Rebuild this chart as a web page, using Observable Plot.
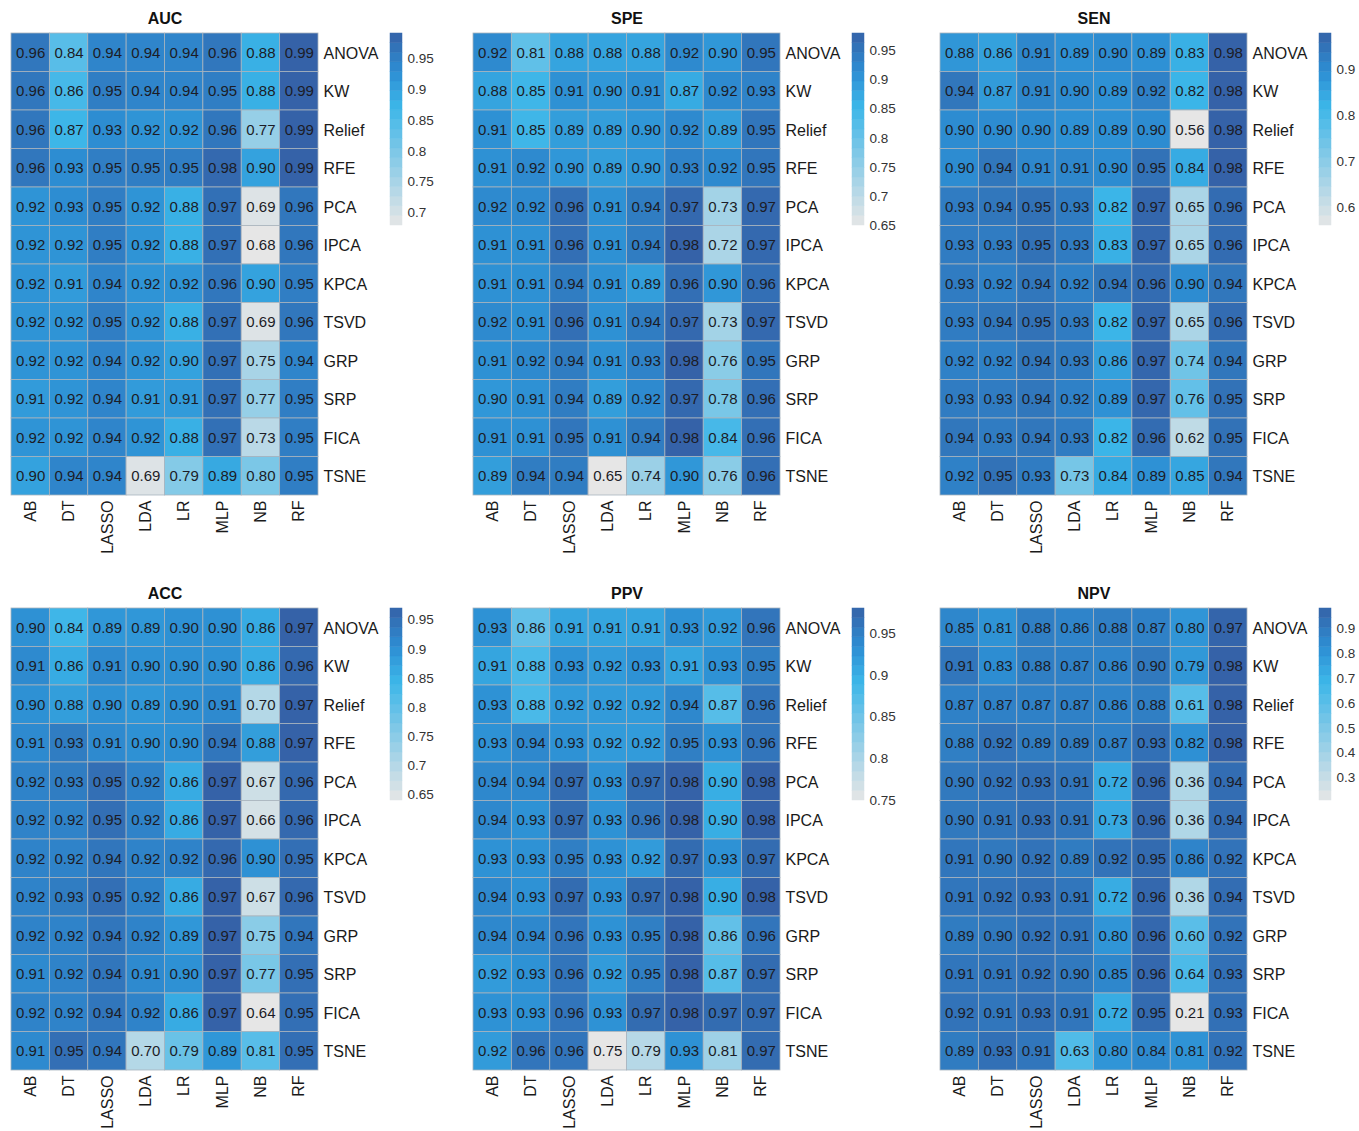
<!DOCTYPE html>
<html><head><meta charset="utf-8">
<script src="https://cdn.jsdelivr.net/npm/d3@7"></script>
<script src="https://cdn.jsdelivr.net/npm/@observablehq/plot@0.6"></script>
<style>
body{margin:0;background:#fff;font-family:"Liberation Sans",Arial,sans-serif;}
#root{position:relative;width:1359px;height:1131px;overflow:hidden;}
.abs{position:absolute;}
</style></head><body><div id="root"></div>
<script>
const models = ["AB","DT","LASSO","LDA","LR","MLP","NB","RF"];
const methods = ["ANOVA","KW","Relief","RFE","PCA","IPCA","KPCA","TSVD","GRP","SRP","FICA","TSNE"];

const AUC = [
 [0.96,0.84,0.94,0.94,0.94,0.96,0.88,0.99],
 [0.96,0.86,0.95,0.94,0.94,0.95,0.88,0.99],
 [0.96,0.87,0.93,0.92,0.92,0.96,0.77,0.99],
 [0.96,0.93,0.95,0.95,0.95,0.98,0.90,0.99],
 [0.92,0.93,0.95,0.92,0.88,0.97,0.69,0.96],
 [0.92,0.92,0.95,0.92,0.88,0.97,0.68,0.96],
 [0.92,0.91,0.94,0.92,0.92,0.96,0.90,0.95],
 [0.92,0.92,0.95,0.92,0.88,0.97,0.69,0.96],
 [0.92,0.92,0.94,0.92,0.90,0.97,0.75,0.94],
 [0.91,0.92,0.94,0.91,0.91,0.97,0.77,0.95],
 [0.92,0.92,0.94,0.92,0.88,0.97,0.73,0.95],
 [0.90,0.94,0.94,0.69,0.79,0.89,0.80,0.95]];
const SPE = [
 [0.92,0.81,0.88,0.88,0.88,0.92,0.90,0.95],
 [0.88,0.85,0.91,0.90,0.91,0.87,0.92,0.93],
 [0.91,0.85,0.89,0.89,0.90,0.92,0.89,0.95],
 [0.91,0.92,0.90,0.89,0.90,0.93,0.92,0.95],
 [0.92,0.92,0.96,0.91,0.94,0.97,0.73,0.97],
 [0.91,0.91,0.96,0.91,0.94,0.98,0.72,0.97],
 [0.91,0.91,0.94,0.91,0.89,0.96,0.90,0.96],
 [0.92,0.91,0.96,0.91,0.94,0.97,0.73,0.97],
 [0.91,0.92,0.94,0.91,0.93,0.98,0.76,0.95],
 [0.90,0.91,0.94,0.89,0.92,0.97,0.78,0.96],
 [0.91,0.91,0.95,0.91,0.94,0.98,0.84,0.96],
 [0.89,0.94,0.94,0.65,0.74,0.90,0.76,0.96]];
const SEN = [
 [0.88,0.86,0.91,0.89,0.90,0.89,0.83,0.98],
 [0.94,0.87,0.91,0.90,0.89,0.92,0.82,0.98],
 [0.90,0.90,0.90,0.89,0.89,0.90,0.56,0.98],
 [0.90,0.94,0.91,0.91,0.90,0.95,0.84,0.98],
 [0.93,0.94,0.95,0.93,0.82,0.97,0.65,0.96],
 [0.93,0.93,0.95,0.93,0.83,0.97,0.65,0.96],
 [0.93,0.92,0.94,0.92,0.94,0.96,0.90,0.94],
 [0.93,0.94,0.95,0.93,0.82,0.97,0.65,0.96],
 [0.92,0.92,0.94,0.93,0.86,0.97,0.74,0.94],
 [0.93,0.93,0.94,0.92,0.89,0.97,0.76,0.95],
 [0.94,0.93,0.94,0.93,0.82,0.96,0.62,0.95],
 [0.92,0.95,0.93,0.73,0.84,0.89,0.85,0.94]];
const ACC = [
 [0.90,0.84,0.89,0.89,0.90,0.90,0.86,0.97],
 [0.91,0.86,0.91,0.90,0.90,0.90,0.86,0.96],
 [0.90,0.88,0.90,0.89,0.90,0.91,0.70,0.97],
 [0.91,0.93,0.91,0.90,0.90,0.94,0.88,0.97],
 [0.92,0.93,0.95,0.92,0.86,0.97,0.67,0.96],
 [0.92,0.92,0.95,0.92,0.86,0.97,0.66,0.96],
 [0.92,0.92,0.94,0.92,0.92,0.96,0.90,0.95],
 [0.92,0.93,0.95,0.92,0.86,0.97,0.67,0.96],
 [0.92,0.92,0.94,0.92,0.89,0.97,0.75,0.94],
 [0.91,0.92,0.94,0.91,0.90,0.97,0.77,0.95],
 [0.92,0.92,0.94,0.92,0.86,0.97,0.64,0.95],
 [0.91,0.95,0.94,0.70,0.79,0.89,0.81,0.95]];
const PPV = [
 [0.93,0.86,0.91,0.91,0.91,0.93,0.92,0.96],
 [0.91,0.88,0.93,0.92,0.93,0.91,0.93,0.95],
 [0.93,0.88,0.92,0.92,0.92,0.94,0.87,0.96],
 [0.93,0.94,0.93,0.92,0.92,0.95,0.93,0.96],
 [0.94,0.94,0.97,0.93,0.97,0.98,0.90,0.98],
 [0.94,0.93,0.97,0.93,0.96,0.98,0.90,0.98],
 [0.93,0.93,0.95,0.93,0.92,0.97,0.93,0.97],
 [0.94,0.93,0.97,0.93,0.97,0.98,0.90,0.98],
 [0.94,0.94,0.96,0.93,0.95,0.98,0.86,0.96],
 [0.92,0.93,0.96,0.92,0.95,0.98,0.87,0.97],
 [0.93,0.93,0.96,0.93,0.97,0.98,0.97,0.97],
 [0.92,0.96,0.96,0.75,0.79,0.93,0.81,0.97]];
const NPV = [
 [0.85,0.81,0.88,0.86,0.88,0.87,0.80,0.97],
 [0.91,0.83,0.88,0.87,0.86,0.90,0.79,0.98],
 [0.87,0.87,0.87,0.87,0.86,0.88,0.61,0.98],
 [0.88,0.92,0.89,0.89,0.87,0.93,0.82,0.98],
 [0.90,0.92,0.93,0.91,0.72,0.96,0.36,0.94],
 [0.90,0.91,0.93,0.91,0.73,0.96,0.36,0.94],
 [0.91,0.90,0.92,0.89,0.92,0.95,0.86,0.92],
 [0.91,0.92,0.93,0.91,0.72,0.96,0.36,0.94],
 [0.89,0.90,0.92,0.91,0.80,0.96,0.60,0.92],
 [0.91,0.91,0.92,0.90,0.85,0.96,0.64,0.93],
 [0.92,0.91,0.93,0.91,0.72,0.95,0.21,0.93],
 [0.89,0.93,0.91,0.63,0.80,0.84,0.81,0.92]];

const aucTicks = [0.7,0.75,0.8,0.85,0.9,0.95];
const speTicks = [0.65,0.7,0.75,0.8,0.85,0.9,0.95];
const senTicks = [0.6,0.7,0.8,0.9];
const accTicks = [0.65,0.7,0.75,0.8,0.85,0.9,0.95];
const ppvTicks = [0.75,0.8,0.85,0.9,0.95];
const npvTicks = [0.3,0.4,0.5,0.6,0.7,0.8,0.9];

const panels = [
  {name:"AUC", values:AUC, ticks:aucTicks, col:0, row:0},
  {name:"SPE", values:SPE, ticks:speTicks, col:1, row:0},
  {name:"SEN", values:SEN, ticks:senTicks, col:2, row:0},
  {name:"ACC", values:ACC, ticks:accTicks, col:0, row:1},
  {name:"PPV", values:PPV, ticks:ppvTicks, col:1, row:1},
  {name:"NPV", values:NPV, ticks:npvTicks, col:2, row:1}
];
const colLeft = [11, 473, 940];
const rowTop = [33, 608];
const font = "Liberation Sans, Arial, sans-serif";
const gradStops = [0, 0.62, 0.8, 1];
const gradColors = ["#e6e6e6", "#3bb5e8", "#2d8ed3", "#3562a8"];
const root = document.getElementById("root");

for (const p of panels) {
  const data = [];
  methods.forEach((m, i) => models.forEach((c, j) => data.push({method: m, model: c, value: p.values[i][j]})));
  const flat = p.values.flat();
  const lo = d3.min(flat), hi = d3.max(flat);
  const color = {type: "linear", domain: gradStops.map(t => lo + (hi - lo) * t), range: gradColors};
  const gw = 307, gh = 462;
  const mt = 33, mr = 80, mb = 70;
  const chart = Plot.plot({
    width: gw + mr, height: mt + gh + mb,
    marginTop: mt, marginLeft: 0, marginRight: mr, marginBottom: mb,
    style: {fontFamily: font, background: "transparent", overflow: "visible"},
    x: {domain: models, padding: 0, round: false, axis: null},
    y: {domain: methods, padding: 0, round: false, axis: null},
    color,
    marks: [
      Plot.cell(data, {x: "model", y: "method", fill: "value", stroke: "#a9b3bd", strokeWidth: 0.8, inset: 0}),
      Plot.text(data, {x: "model", y: "method", text: d => d.value.toFixed(2), fontSize: 15, fill: "#1c1c26"}),
      Plot.axisX({anchor: "bottom", tickRotate: -90, tickSize: 0, tickPadding: 5, fontSize: 16, fill: "#1a1a1a", label: null}),
      Plot.axisY({anchor: "right", tickSize: 0, tickPadding: 5, fontSize: 16, fill: "#1a1a1a", label: null, dy: 1}),
      Plot.text([p.name], {text: d => d, frameAnchor: "top", lineAnchor: "middle", dy: -15, fontSize: 16, fontWeight: "bold", fill: "#111"})
    ]
  });
  chart.classList.add("abs");
  chart.style.left = colLeft[p.col] + "px";
  chart.style.top = (rowTop[p.row] - mt) + "px";
  root.appendChild(chart);

  // colour bar legend
  const nbin = 20;
  const bins = d3.range(nbin).map(i => ({
    y1: lo + (hi - lo) * i / nbin,
    y2: lo + (hi - lo) * (i + 1) / nbin,
    v: lo + (hi - lo) * (i + 0.5) / nbin
  }));
  const lmt = 10, bw = 12, bh = 192;
  const leg = Plot.plot({
    width: bw + 50, height: bh + 2 * lmt,
    marginTop: lmt, marginBottom: lmt, marginLeft: 0, marginRight: 50,
    style: {fontFamily: font, background: "transparent", overflow: "visible"},
    x: {domain: [0, 1], axis: null},
    y: {domain: [lo, hi], axis: null},
    color,
    marks: [
      Plot.rect(bins, {x1: 0, x2: 1, y1: "y1", y2: "y2", fill: "v", stroke: "v", strokeWidth: 0.5}),
      Plot.axisY({anchor: "right", ticks: p.ticks, tickSize: 0, tickPadding: 5, fontSize: 13.5, fill: "#333", tickFormat: d => String(d), label: null})
    ]
  });
  leg.classList.add("abs");
  leg.style.left = (colLeft[p.col] + 379) + "px";
  leg.style.top = (rowTop[p.row] - lmt) + "px";
  root.appendChild(leg);
}
</script>
</body></html>
